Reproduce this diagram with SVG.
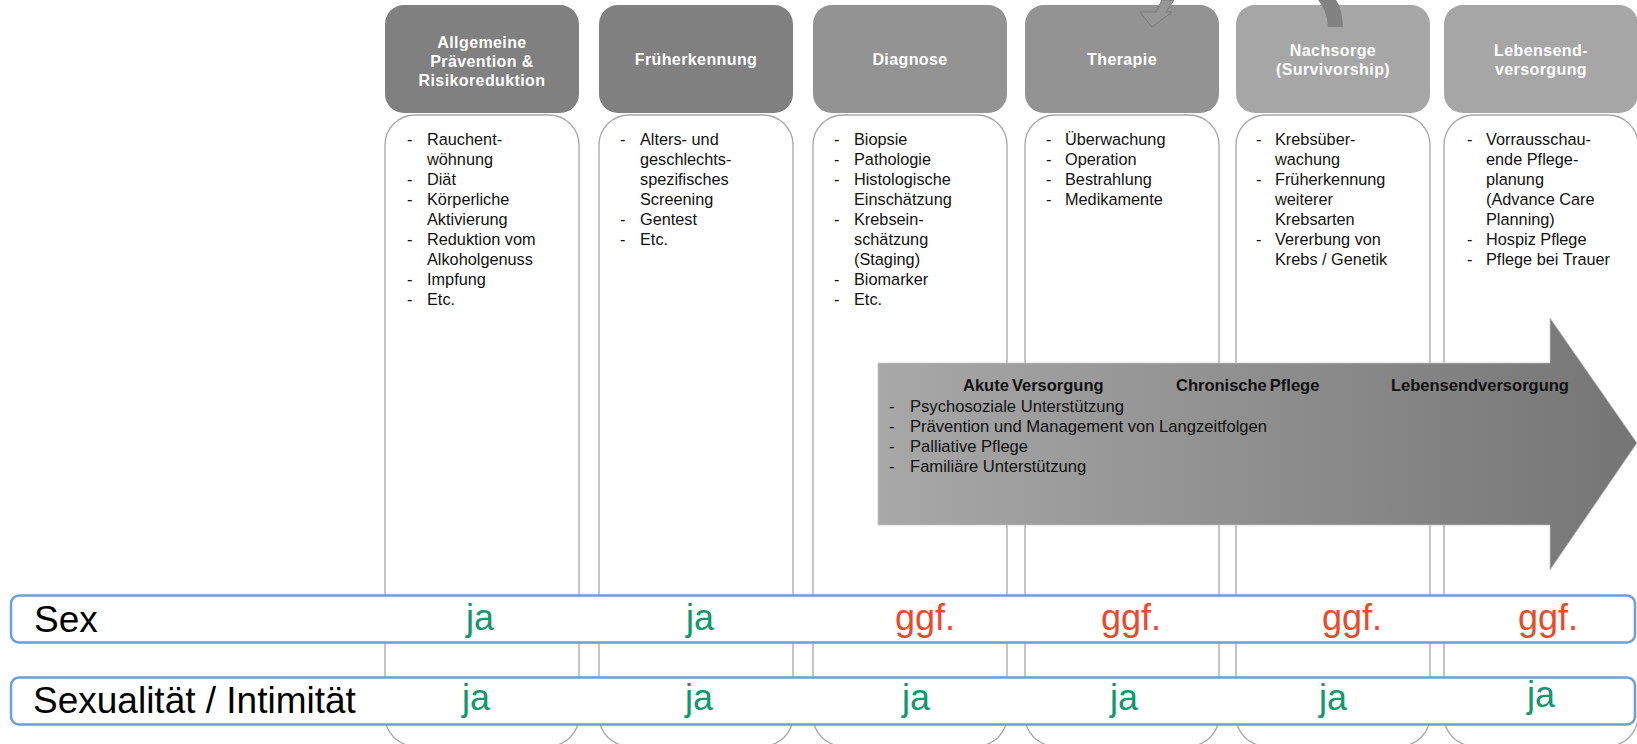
<svg xmlns="http://www.w3.org/2000/svg" width="1637" height="744" viewBox="0 0 1637 744">
<style>
.hdr{font-family:"Liberation Sans",Arial,sans-serif;font-weight:bold;font-size:16px;fill:#ffffff;text-anchor:middle;letter-spacing:0.4px}
.box{fill:#ffffff;stroke:#a6a6a6;stroke-width:1.3}
.li{font-family:"Liberation Sans",Arial,sans-serif;font-size:16.3px;fill:#111111}
.al{font-family:"Liberation Sans",Arial,sans-serif;font-size:16.6px;fill:#111111}
.at{font-family:"Liberation Sans",Arial,sans-serif;font-size:16.5px;font-weight:bold;fill:#111111;word-spacing:-1.5px}
.row{fill:#ffffff;stroke:#6b9fd9;stroke-width:2.5}
.lab{font-family:"Liberation Sans",Arial,sans-serif;font-size:37px;fill:#000000}
.ja{font-family:"Liberation Sans",Arial,sans-serif;font-size:36px;fill:#13976c;text-anchor:middle}
.gg{font-family:"Liberation Sans",Arial,sans-serif;font-size:36px;fill:#e84a2c;text-anchor:middle}
</style>
<defs>
<linearGradient id="ag" x1="878" y1="0" x2="1637" y2="0" gradientUnits="userSpaceOnUse">
<stop offset="0" stop-color="#a8a8a8"/>
<stop offset="1" stop-color="#757575"/>
</linearGradient>
</defs>

<g id="col1">
<rect class="box" x="385" y="115" width="194" height="631" rx="30"/>
<rect x="385" y="5" width="194" height="108" rx="19" fill="#808080"/>
<text class="hdr" x="482" y="47.5">Allgemeine</text>
<text class="hdr" x="482" y="66.5">Prävention &amp;</text>
<text class="hdr" x="482" y="85.5">Risikoreduktion</text>
<g class="li">
<text x="407" y="145">-</text><text x="427" y="145">Rauchent-</text>
<text x="427" y="165">wöhnung</text>
<text x="407" y="185">-</text><text x="427" y="185">Diät</text>
<text x="407" y="205">-</text><text x="427" y="205">Körperliche</text>
<text x="427" y="225">Aktivierung</text>
<text x="407" y="245">-</text><text x="427" y="245">Reduktion vom</text>
<text x="427" y="265">Alkoholgenuss</text>
<text x="407" y="285">-</text><text x="427" y="285">Impfung</text>
<text x="407" y="305">-</text><text x="427" y="305">Etc.</text>
</g>
</g>

<g id="col2">
<rect class="box" x="599" y="115" width="194" height="631" rx="30"/>
<rect x="599" y="5" width="194" height="108" rx="19" fill="#808080"/>
<text class="hdr" x="696" y="65">Früherkennung</text>
<g class="li">
<text x="620" y="145">-</text><text x="640" y="145">Alters- und</text>
<text x="640" y="165">geschlechts-</text>
<text x="640" y="185">spezifisches</text>
<text x="640" y="205">Screening</text>
<text x="620" y="225">-</text><text x="640" y="225">Gentest</text>
<text x="620" y="245">-</text><text x="640" y="245">Etc.</text>
</g>
</g>

<g id="col3">
<rect class="box" x="813" y="115" width="194" height="631" rx="30"/>
<rect x="813" y="5" width="194" height="108" rx="19" fill="#939393"/>
<text class="hdr" x="910" y="65">Diagnose</text>
<g class="li">
<text x="834" y="145">-</text><text x="854" y="145">Biopsie</text>
<text x="834" y="165">-</text><text x="854" y="165">Pathologie</text>
<text x="834" y="185">-</text><text x="854" y="185">Histologische</text>
<text x="854" y="205">Einschätzung</text>
<text x="834" y="225">-</text><text x="854" y="225">Krebsein-</text>
<text x="854" y="245">schätzung</text>
<text x="854" y="265">(Staging)</text>
<text x="834" y="285">-</text><text x="854" y="285">Biomarker</text>
<text x="834" y="305">-</text><text x="854" y="305">Etc.</text>
</g>
</g>

<g id="col4">
<rect class="box" x="1025" y="115" width="194" height="631" rx="30"/>
<rect x="1025" y="5" width="194" height="108" rx="19" fill="#939393"/>
<text class="hdr" x="1122" y="65">Therapie</text>
<g class="li">
<text x="1046" y="145">-</text><text x="1065" y="145">Überwachung</text>
<text x="1046" y="165">-</text><text x="1065" y="165">Operation</text>
<text x="1046" y="185">-</text><text x="1065" y="185">Bestrahlung</text>
<text x="1046" y="205">-</text><text x="1065" y="205">Medikamente</text>
</g>
</g>

<g id="col5">
<rect class="box" x="1236" y="115" width="194" height="631" rx="30"/>
<rect x="1236" y="5" width="194" height="108" rx="19" fill="#a6a6a6"/>
<text class="hdr" x="1333" y="56">Nachsorge</text>
<text class="hdr" x="1333" y="75">(Survivorship)</text>
<g class="li">
<text x="1256" y="145">-</text><text x="1275" y="145">Krebsüber-</text>
<text x="1275" y="165">wachung</text>
<text x="1256" y="185">-</text><text x="1275" y="185">Früherkennung</text>
<text x="1275" y="205">weiterer</text>
<text x="1275" y="225">Krebsarten</text>
<text x="1256" y="245">-</text><text x="1275" y="245">Vererbung von</text>
<text x="1275" y="265">Krebs / Genetik</text>
</g>
</g>

<g id="col6">
<rect class="box" x="1444" y="115" width="194" height="631" rx="30"/>
<rect x="1444" y="5" width="194" height="108" rx="19" fill="#a6a6a6"/>
<text class="hdr" x="1541" y="56">Lebensend-</text>
<text class="hdr" x="1541" y="75">versorgung</text>
<g class="li">
<text x="1467" y="145">-</text><text x="1486" y="145">Vorrausschau-</text>
<text x="1486" y="165">ende Pflege-</text>
<text x="1486" y="185">planung</text>
<text x="1486" y="205">(Advance Care</text>
<text x="1486" y="225">Planning)</text>
<text x="1467" y="245">-</text><text x="1486" y="245">Hospiz Pflege</text>
<text x="1467" y="265">-</text><text x="1486" y="265">Pflege bei Trauer</text>
</g>
</g>

<g id="connectors">
<polygon points="1162,0 1156,12 1140,12 1152,27 1172,12 1166,12 1174,0" fill="#969696" stroke="#7a7a7a" stroke-width="1"/>
<path d="M1318,0 Q1327,10 1328,27 L1343,27 Q1342,8 1336,0 Z" fill="#828282"/>
</g>

<g id="arrow">
<polygon points="878,363 1550,363 1550,318 1637,443 1550,570 1550,525 878,525" fill="url(#ag)" stroke="#c4c4c4" stroke-width="0.8"/>
<text class="at" x="963" y="391">Akute Versorgung</text>
<text class="at" x="1176" y="391">Chronische Pflege</text>
<text class="at" x="1391" y="391">Lebensendversorgung</text>
<g class="al">
<text x="889" y="412">-</text><text x="910" y="412">Psychosoziale Unterstützung</text>
<text x="889" y="432">-</text><text x="910" y="432">Prävention und Management von Langzeitfolgen</text>
<text x="889" y="452">-</text><text x="910" y="452">Palliative Pflege</text>
<text x="889" y="472">-</text><text x="910" y="472">Familiäre Unterstützung</text>
</g>
</g>

<g id="row-sex">
<rect class="row" x="11" y="595.5" width="1624" height="47" rx="8"/>
<text class="lab" x="34" y="632">Sex</text>
<text class="ja" x="480" y="630">ja</text>
<text class="ja" x="700" y="630">ja</text>
<text class="gg" x="925" y="630">ggf.</text>
<text class="gg" x="1131" y="630">ggf.</text>
<text class="gg" x="1352" y="630">ggf.</text>
<text class="gg" x="1548" y="630">ggf.</text>
</g>

<g id="row-intim">
<rect class="row" x="11" y="677.5" width="1624" height="47" rx="8"/>
<text class="lab" x="33" y="713">Sexualität / Intimität</text>
<text class="ja" x="476" y="710">ja</text>
<text class="ja" x="699" y="710">ja</text>
<text class="ja" x="916" y="710">ja</text>
<text class="ja" x="1124" y="710">ja</text>
<text class="ja" x="1333" y="710">ja</text>
<text class="ja" x="1541" y="707">ja</text>
</g>
</svg>
